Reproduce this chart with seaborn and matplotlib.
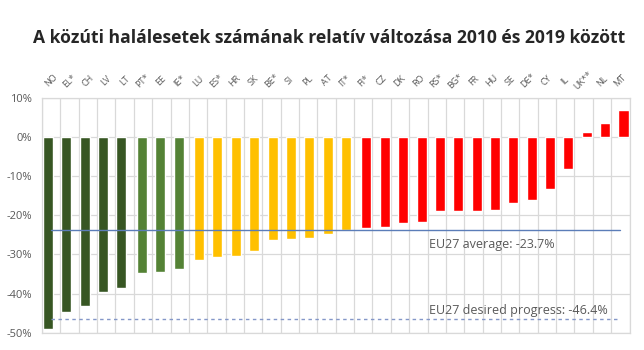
import matplotlib
matplotlib.use("Agg")
import matplotlib.pyplot as plt
import seaborn as sns
import pandas as pd

countries = ["NO", "EL*", "CH", "LV", "LT", "PT*", "EE", "IE*", "LU", "ES*", "HR", "SK",
             "BE*", "SI", "PL", "AT", "IT*", "FI*", "CZ", "DK", "RO", "RS*", "BG*", "FR",
             "HU", "SE", "DE*", "CY", "IL", "UK**", "NL", "MT"]
values = [-48.9, -44.7, -43.0, -39.6, -38.6, -34.6, -34.4, -33.7, -31.4, -30.6, -30.4, -29.2,
          -26.4, -26.1, -25.7, -24.8, -23.8, -23.2, -23.0, -22.1, -21.6, -19.0, -19.0, -18.8,
          -18.7, -16.9, -16.2, -13.3, -8.2, 1.3, 3.4, 6.8]
groups = (["g1"] * 5 + ["g2"] * 3 + ["g3"] * 9 + ["g4"] * 15)
group_order = ["g1", "g2", "g3", "g4"]
group_colors = ["#375623", "#548235", "#FFC000", "#FF0000"]
ytick_values = [10, 0, -10, -20, -30, -40, -50]
ytick_labels = ["10%", "0%", "-10%", "-20%", "-30%", "-40%", "-50%"]
eu_avg = -23.7
eu_target = -46.4
avg_label = "EU27 average: -23.7%"
target_label = "EU27 desired progress: -46.4%"
title = "A közúti halálesetek számának relatív változása 2010 és 2019 között"

df = pd.DataFrame({"country": countries, "value": values, "group": groups})

sns.set_style("white")
plt.rcParams["font.family"] = ["Open Sans", "DejaVu Sans"]

fig = plt.figure(figsize=(6.44, 3.5), dpi=100)
ax = fig.add_axes([0.0652, 0.0486, 0.9123, 0.6728])

sns.barplot(data=df, x="country", y="value", hue="group", order=countries,
            hue_order=group_order, palette=group_colors, dodge=True, width=0.46,
            saturation=1, legend=False, ax=ax, zorder=2)

# widen the dodged bars so they overlap like the original clustered chart
bar_w = 0.545
for p in ax.patches:
    c = p.get_x() + p.get_width() / 2
    p.set_width(bar_w)
    p.set_x(c - bar_w / 2)

n = len(countries)
grid_c = "#D9D9D9"
ax.set_xlim(-0.5, n - 0.5)
ax.set_ylim(-50, 10)
ax.set_yticks(ytick_values)
ax.set_yticklabels(ytick_labels)
ax.set_xticks(range(n))
ax.set_xticks([i - 0.5 for i in range(n + 1)], minor=True)
ax.grid(False)
ax.grid(True, axis="y", which="major", color=grid_c, lw=0.9, zorder=0)
ax.grid(True, axis="x", which="minor", color=grid_c, lw=0.9, zorder=0)
ax.set_axisbelow(True)
for s in ax.spines.values():
    s.set_color(grid_c)
    s.set_linewidth(0.9)
ax.set_xlabel("")
ax.set_ylabel("")

ax.xaxis.tick_top()
ax.tick_params(axis="x", which="both", length=0, pad=12)
ax.tick_params(axis="y", length=0, pad=7, labelsize=8, labelcolor="#595959")
ax.set_xticklabels(countries, rotation=45, fontsize=6.5, color="#595959")
for lbl in ax.get_xticklabels():
    lbl.set_ha("center")
    lbl.set_va("center")
    lbl.set_rotation_mode("anchor")

xs = list(range(n))
ax.plot(xs, [eu_avg] * n, color="#5B7DB8", lw=1.0, zorder=3)
ax.plot(xs, [eu_target] * n, color="#8497C8", lw=1.0, ls=(0, (2.5, 2.5)), zorder=3)
ax.text(20.6, -27.4, avg_label, ha="left", va="center", fontsize=9, color="#595959")
ax.text(20.6, -44.2, target_label, ha="left", va="center", fontsize=9, color="#595959")

fig.text(0.5117, 0.891, title, ha="center", va="center", fontsize=12.6,
         fontweight="bold", color="#262626")

fig.savefig("out.png", dpi=100)
